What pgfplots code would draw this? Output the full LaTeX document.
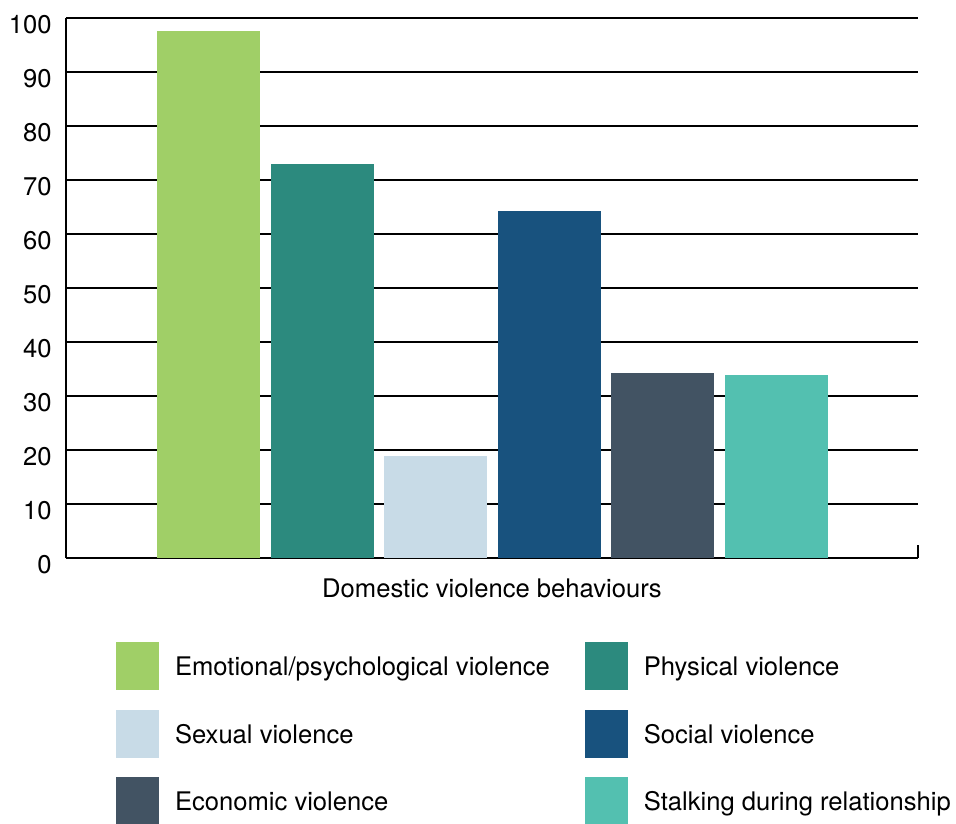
\documentclass[border=0pt]{standalone}
\usepackage{pgfplots}
\pgfplotsset{compat=1.18}
\usepackage{fontspec}
\setmainfont{TeX Gyre Heros}
\definecolor{cA}{HTML}{A0CF67}
\definecolor{cB}{HTML}{2C8A7E}
\definecolor{cC}{HTML}{C8DBE7}
\definecolor{cD}{HTML}{18527E}
\definecolor{cE}{HTML}{425363}
\definecolor{cF}{HTML}{53C0B0}
\begin{document}
\fontsize{12.8}{15}\selectfont
\begin{tikzpicture}
\useasboundingbox (-33pt,-132.5pt) rectangle (445pt,279pt);
\begin{axis}[
  at={(0,0)}, anchor=south west,
  scale only axis, width=426pt, height=270pt,
  xmin=-1.254, xmax=6.246, ymin=0, ymax=100,
  axis x line*=bottom, axis y line*=left,
  axis line style={black, line width=0.75pt},
  ytick={0,10,...,100},
  ymajorgrids, grid style={black, line width=0.75pt},
  ytick style={draw=none},
  xtick={-1.254,6.246}, xticklabels={},
  xtick align=inside, major tick length=6.5pt,
  xtick style={black, line width=0.75pt},
  /pgf/number format/assume math mode=true,
  ticklabel style={font=\fontsize{12.8}{15}\selectfont},
  yticklabel style={inner sep=0pt, xshift=-7pt, yshift=-3.5pt},
  xlabel={Domestic violence behaviours},
  xlabel style={at={(axis description cs:0.5,0)}, anchor=center, yshift=-15pt, font=\fontsize{12.8}{15}\selectfont},
  legend columns=2,
  legend cell align=left,
  legend image code/.code={\fill[#1] (0pt,-10.9pt) rectangle (21.5pt,13.1pt);},
  legend style={at={(rel axis cs:0.0587,-0.1556)}, anchor=north west, draw=none,
    inner sep=0pt, outer sep=0pt, font=\fontsize{12.8}{15}\selectfont,
    nodes={inner sep=0pt},
    row sep=9.75pt,
    /tikz/every odd column/.append style={column sep=8pt},
    /tikz/every even column/.append style={column sep=17.5pt}},
]
\addplot[ybar, bar shift=0pt, bar width=0.906, fill=cA, draw=none] coordinates {(0,97.6)};
\addlegendentry{Emotional/psychological violence}
\addplot[ybar, bar shift=0pt, bar width=0.906, fill=cB, draw=none] coordinates {(1,73.0)};
\addlegendentry{Physical violence}
\addplot[ybar, bar shift=0pt, bar width=0.906, fill=cC, draw=none] coordinates {(2,18.9)};
\addlegendentry{Sexual violence}
\addplot[ybar, bar shift=0pt, bar width=0.906, fill=cD, draw=none] coordinates {(3,64.3)};
\addlegendentry{Social violence}
\addplot[ybar, bar shift=0pt, bar width=0.906, fill=cE, draw=none] coordinates {(4,34.3)};
\addlegendentry{Economic violence}
\addplot[ybar, bar shift=0pt, bar width=0.906, fill=cF, draw=none] coordinates {(5,33.9)};
\addlegendentry{Stalking during relationship}
\end{axis}
\end{tikzpicture}
\end{document}
